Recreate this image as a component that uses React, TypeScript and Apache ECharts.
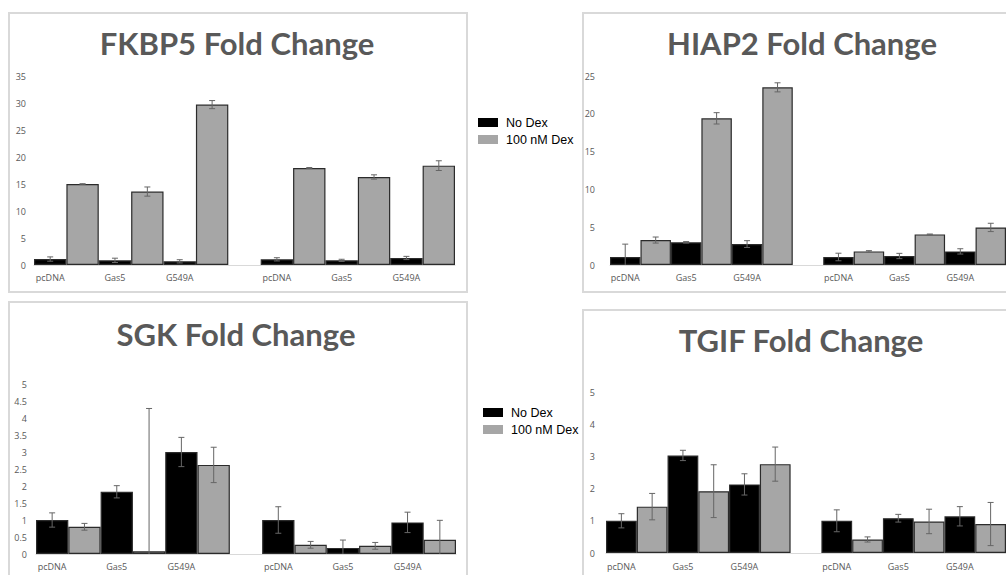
import React, { useEffect, useRef } from "react";
import * as echarts from "echarts";

// ---------- data ----------
const categories = ["pcDNA", "Gas5", "G549A"];
const seriesNames = ["No Dex", "100 nM Dex"];

// FKBP5 (two groups of pcDNA / Gas5 / G549A)
const fkbp5NoDex = [1.1, 0.86, 0.68, 1.05, 0.86, 1.3];
const fkbp5NoDexErr = [0.4, 0.4, 0.3, 0.3, 0.2, 0.3];
const fkbp5Dex = [15.0, 13.6, 29.7, 17.95, 16.3, 18.4];
const fkbp5DexErr = [0.05, 0.85, 0.75, 0.1, 0.4, 0.9];

// HIAP2
const hiap2NoDex = [1.06, 3.0, 2.77, 1.06, 1.19, 1.8];
const hiap2NoDexErr = [1.7, 0.1, 0.45, 0.5, 0.35, 0.35];
const hiap2Dex = [3.3, 19.4, 23.5, 1.8, 4.05, 4.97];
const hiap2DexErr = [0.4, 0.75, 0.6, 0.1, 0.05, 0.55];

// SGK
const sgkNoDex = [1.0, 1.83, 3.0, 1.0, 0.18, 0.93];
const sgkNoDexErr = [0.21, 0.18, 0.43, 0.39, 0.23, 0.3];
const sgkDex = [0.8, 0.08, 2.62, 0.27, 0.24, 0.42];
const sgkDexErr = [0.1, 4.2, 0.52, 0.1, 0.1, 0.57];

// TGIF
const tgifNoDex = [1.0, 3.03, 2.13, 1.0, 1.08, 1.14];
const tgifNoDexErr = [0.22, 0.16, 0.33, 0.34, 0.12, 0.3];
const tgifDex = [1.44, 1.92, 2.76, 0.42, 0.98, 0.9];
const tgifDexErr = [0.41, 0.82, 0.53, 0.08, 0.38, 0.67];

const titles = ["FKBP5 Fold Change", "HIAP2 Fold Change", "SGK Fold Change", "TGIF Fold Change"];
const yMax = [35, 25, 5, 5];
const yInterval = [5, 5, 0.5, 1];

// ---------- layout (styles / positions) ----------
const panelLayout = [
  { grid: { left: 34, top: 76, width: 421, height: 189 }, title: [237, 43], yMargin: 8, xMargin: 8, box: [9, 13, 458, 279] },
  { grid: { left: 610, top: 76, width: 397, height: 189 }, title: [802, 43], yMargin: 15, xMargin: 8, box: [583, 13, 500, 279] },
  { grid: { left: 36, top: 384, width: 420, height: 170 }, title: [236, 334], yMargin: 9, xMargin: 8, box: [9, 302, 458, 320] },
  { grid: { left: 606, top: 392, width: 403, height: 161 }, title: [801, 340], yMargin: 11, xMargin: 9, box: [583, 310, 500, 320] },
];

const panelData = [
  [fkbp5NoDex, fkbp5NoDexErr, fkbp5Dex, fkbp5DexErr],
  [hiap2NoDex, hiap2NoDexErr, hiap2Dex, hiap2DexErr],
  [sgkNoDex, sgkNoDexErr, sgkDex, sgkDexErr],
  [tgifNoDex, tgifNoDexErr, tgifDex, tgifDexErr],
];

// 13 slots per chart: 6 bars, empty slot, 6 bars
const SLOTS = 13;
const slotOf = (i: number, s: number) => Math.floor(i / 3) * 7 + (i % 3) * 2 + s;
const slotLabels: string[] = Array.from({ length: SLOTS }, () => "");
for (let i = 0; i < 6; i++) slotLabels[slotOf(i, 0)] = categories[i % 3];

const BAR_COLORS = ["#000000", "#a6a6a6"];
const TEXT_COLOR = "#595959";
const TICK_FONT = "Open Sans";

function buildOption() {
  const grid: any[] = [];
  const xAxis: any[] = [];
  const yAxis: any[] = [];
  const series: any[] = [];
  const graphic: any[] = [];

  panelLayout.forEach((p, k) => {
    grid.push({ ...p.grid });
    xAxis.push({
      type: "category",
      gridIndex: k,
      data: slotLabels,
      axisLine: { show: true, lineStyle: { color: "#d9d9d9", width: 1 } },
      axisTick: { show: false },
      axisLabel: { interval: 0, color: TEXT_COLOR, fontSize: 9, fontFamily: TICK_FONT, margin: p.xMargin },
      splitLine: { show: false },
    });
    yAxis.push({
      type: "value",
      gridIndex: k,
      min: 0,
      max: yMax[k],
      interval: yInterval[k],
      axisLine: { show: false },
      axisTick: { show: false },
      splitLine: { show: false },
      axisLabel: { color: TEXT_COLOR, fontSize: 9, fontFamily: TICK_FONT, margin: p.yMargin },
    });

    const [nd, ndErr, dx, dxErr] = panelData[k];
    const vals = [nd, dx];
    const errs = [ndErr, dxErr];
    const errPoints: any[] = [];
    [0, 1].forEach((s) => {
      const data: (number | null)[] = Array.from({ length: SLOTS }, () => null);
      vals[s].forEach((v, i) => {
        data[slotOf(i, s)] = v;
        errPoints.push([slotOf(i, s), v, errs[s][i]]);
      });
      series.push({
        type: "bar",
        name: seriesNames[s],
        xAxisIndex: k,
        yAxisIndex: k,
        data,
        barCategoryGap: "0%",
        barGap: "-100%",
        itemStyle: { color: BAR_COLORS[s], borderColor: "#2b2b2b", borderWidth: 1.2 },
        z: 2,
      });
    });
    series.push({
      type: "custom",
      name: "error",
      xAxisIndex: k,
      yAxisIndex: k,
      z: 3,
      data: errPoints,
      renderItem: (params: any, api: any) => {
        const x = api.value(0);
        const v = api.value(1);
        const e = api.value(2);
        const lo = Math.max(0, v - e);
        const top = api.coord([x, v + e]);
        const bot = api.coord([x, lo]);
        const hw = 3;
        const style = { stroke: "#666666", lineWidth: 1 };
        const children: any[] = [
          { type: "line", shape: { x1: top[0], y1: top[1], x2: bot[0], y2: bot[1] }, style },
          { type: "line", shape: { x1: top[0] - hw, y1: top[1], x2: top[0] + hw, y2: top[1] }, style },
        ];
        if (v - e > 0) {
          children.push({ type: "line", shape: { x1: bot[0] - hw, y1: bot[1], x2: bot[0] + hw, y2: bot[1] }, style });
        }
        return { type: "group", children };
      },
    });

    graphic.push({
      type: "rect",
      shape: { x: p.box[0], y: p.box[1], width: p.box[2], height: p.box[3] },
      style: { fill: "none", stroke: "#d9d9d9", lineWidth: 2 },
      silent: true,
      z: 0,
    });
    graphic.push({
      type: "text",
      x: p.title[0],
      y: p.title[1],
      style: {
        text: titles[k],
        fill: TEXT_COLOR,
        fontSize: 31,
        fontWeight: "bold",
        fontFamily: "Lato",
        align: "center",
        verticalAlign: "middle",
      },
      silent: true,
    });
  });

  const legendBase = {
    orient: "vertical",
    data: seriesNames,
    itemWidth: 20,
    itemHeight: 9,
    itemGap: 4,
    icon: "rect",
    selectedMode: false,
    itemStyle: { borderWidth: 0 },
    textStyle: { fontFamily: "Liberation Sans", fontSize: 12.5, color: "#000000", padding: [0, 0, 0, 3] },
  };

  return {
    animation: false,
    backgroundColor: "#ffffff",
    grid,
    xAxis,
    yAxis,
    series,
    graphic,
    legend: [
      { ...legendBase, left: 473, top: 111 },
      { ...legendBase, left: 478, top: 401 },
    ],
  };
}

export default function App() {
  const ref = useRef<HTMLDivElement>(null);
  useEffect(() => {
    if (!ref.current) return;
    const chart = echarts.init(ref.current, undefined, { renderer: "svg" });
    chart.setOption(buildOption() as any);
    return () => chart.dispose();
  }, []);
  return (
    <div
      ref={ref}
      style={{ position: "fixed", left: 0, top: 0, width: 1006, height: 575, background: "#ffffff" }}
    />
  );
}
